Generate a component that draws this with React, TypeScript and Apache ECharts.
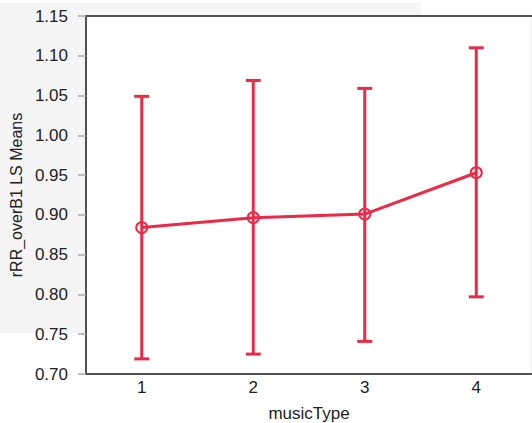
import React, { useEffect, useRef } from "react";
import * as echarts from "echarts";

const categories = ["1", "2", "3", "4"];
const means = [0.884, 0.8965, 0.901, 0.953];
const upper = [1.049, 1.069, 1.059, 1.11];
const lower = [0.719, 0.725, 0.741, 0.797];
const yTicks = { min: 0.7, max: 1.15, interval: 0.05 };

const RED = "#ea2a47";
const AXIS = "#505050";
const FONT = "Liberation Sans, Arial, sans-serif";

export default function App() {
  const ref = useRef<HTMLDivElement>(null);
  useEffect(() => {
    const chart = echarts.init(ref.current!, null, { renderer: "svg" });
    chart.setOption({
      animation: false,
      backgroundColor: "#ffffff",
      textStyle: { fontFamily: FONT },
      graphic: [
        {
          type: "rect",
          z: -10,
          silent: true,
          shape: { x: 0, y: 3, width: 421, height: 330 },
          style: { fill: "#f5f5f5" },
        },
      ],
      grid: {
        left: 86,
        top: 16,
        right: 0,
        bottom: 49,
        outerBoundsMode: "none",
        containLabel: false,
        show: true,
        backgroundColor: "#ffffff",
        borderColor: "#dedede",
        borderWidth: 1,
      },
      xAxis: [
        {
          type: "category",
          data: categories,
          boundaryGap: true,
          name: "musicType",
          nameLocation: "middle",
          nameGap: 31,
          nameTextStyle: { fontSize: 17, color: "#222", fontFamily: FONT },
          axisLine: { lineStyle: { color: AXIS, width: 2 } },
          axisTick: { show: false },
          axisLabel: { fontSize: 17, color: "#222", margin: 5, fontFamily: FONT },
          splitLine: { show: false },
        },
        {
          type: "category",
          data: categories,
          position: "top",
          axisLine: { show: true, lineStyle: { color: AXIS, width: 2 } },
          axisTick: { show: false },
          axisLabel: { show: false },
          splitLine: { show: false },
        },
      ],
      yAxis: {
        type: "value",
        min: yTicks.min,
        max: yTicks.max,
        interval: yTicks.interval,
        name: "rRR_overB1 LS Means",
        nameLocation: "middle",
        nameGap: 59,
        nameTextStyle: { fontSize: 16, color: "#222", fontFamily: FONT },
        axisLine: { show: true, lineStyle: { color: AXIS, width: 2 } },
        axisTick: { show: true, length: 8, lineStyle: { color: "#aaaaaa", width: 1.5 } },
        axisLabel: {
          fontSize: 17,
          color: "#222",
          margin: 18,
          fontFamily: FONT,
          formatter: (v: number) => v.toFixed(2),
        },
        splitLine: { show: false },
      },
      series: [
        {
          type: "line",
          data: means,
          symbol: "circle",
          symbolSize: 11,
          z: 3,
          lineStyle: { color: RED, width: 3 },
          itemStyle: { color: "rgba(0,0,0,0)", borderColor: RED, borderWidth: 2 },
        },
        {
          type: "custom",
          z: 4,
          data: categories.map((_, i) => [i, lower[i], upper[i]]),
          renderItem: (params: any, api: any) => {
            const i = api.value(0);
            const lo = api.coord([i, api.value(1)]);
            const hi = api.coord([i, api.value(2)]);
            const half = 7.5;
            const style = { stroke: RED, lineWidth: 3 };
            return {
              type: "group",
              children: [
                { type: "line", shape: { x1: hi[0], y1: hi[1], x2: lo[0], y2: lo[1] }, style },
                { type: "line", shape: { x1: hi[0] - half, y1: hi[1], x2: hi[0] + half, y2: hi[1] }, style },
                { type: "line", shape: { x1: lo[0] - half, y1: lo[1], x2: lo[0] + half, y2: lo[1] }, style },
              ],
            };
          },
          encode: { x: 0, y: [1, 2] },
        },
      ],
    });
    return () => chart.dispose();
  }, []);
  return <div ref={ref} style={{ width: 532, height: 423, position: "absolute", left: 0, top: 0 }} />;
}
